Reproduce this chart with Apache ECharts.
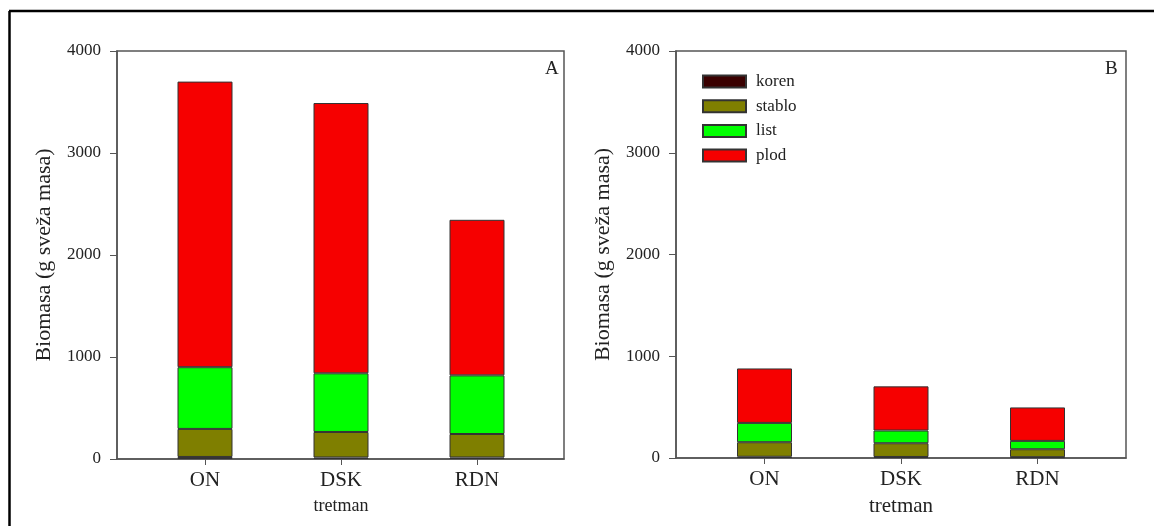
<!DOCTYPE html>
<html>
<head>
<meta charset="utf-8">
<script src="https://cdn.jsdelivr.net/npm/echarts@6/dist/echarts.min.js"></script>
<style>
html,body{margin:0;padding:0;background:#fff;}
#chart{width:1154px;height:526px;}
</style>
</head>
<body>
<div id="chart"></div>
<script>
var categories = ['ON', 'DSK', 'RDN'];
var seriesNames = ['koren', 'stablo', 'list', 'plod'];
var yTicks = [0, 1000, 2000, 3000, 4000];
// Panel A
var korenA = [20, 15, 15];
var stabloA = [275, 250, 230];
var listA = [605, 575, 575];
var plodA = [2800, 2650, 1525];
// Panel B
var korenB = [12, 10, 8];
var stabloB = [143, 135, 78];
var listB = [190, 125, 82];
var plodB = [535, 434, 329];

var colors = ['#3a0000', '#7f7f00', '#00ff00', '#f60000'];
var FONT = 'Liberation Serif';
var YMIN = yTicks[0], YMAX = yTicks[yTicks.length - 1];

// frame axes (y axis with labels + box), grids 0 and 1
function frameX(g) {
  return { type: 'value', gridIndex: g, min: 0, max: 1, show: true,
    axisLine: { show: true, onZero: false, lineStyle: { color: '#555', width: 1.5 } },
    axisTick: { show: false }, axisLabel: { show: false }, splitLine: { show: false } };
}
function frameY(g) {
  return {
    type: 'value', gridIndex: g, min: YMIN, max: YMAX, interval: 1000,
    name: 'Biomasa (g sveža masa)', nameLocation: 'middle', nameGap: 62, nameRotate: 90,
    nameTextStyle: { fontFamily: FONT, fontSize: 22, color: '#222' },
    axisLine: { show: true, onZero: false, lineStyle: { color: '#555', width: 1.5 } },
    axisTick: { show: true, length: 7, lineStyle: { color: '#555' } },
    axisLabel: { margin: 16, fontFamily: FONT, fontSize: 17, color: '#222',
      formatter: function (v) { return String(v); } },
    splitLine: { show: false }
  };
}
// category axes for bars, grids 2 and 3
function catX(g, nameSize) {
  return {
    type: 'category', gridIndex: g, data: categories,
    name: 'tretman', nameLocation: 'middle', nameGap: 38,
    nameTextStyle: { fontFamily: FONT, fontSize: nameSize, color: '#222' },
    axisLine: { show: false },
    axisTick: { show: true, alignWithLabel: true, length: 6, lineStyle: { color: '#555' } },
    axisLabel: { margin: 11, fontFamily: FONT, fontSize: 21, color: '#222' },
    splitLine: { show: false }
  };
}
function catY(g) {
  return { type: 'value', gridIndex: g, min: YMIN, max: YMAX, show: false, splitLine: { show: false } };
}
function makeSeries(name, data, idx, axisIdx, stack) {
  return {
    name: name, type: 'bar', stack: stack, xAxisIndex: axisIdx, yAxisIndex: axisIdx,
    barWidth: 55, data: data,
    itemStyle: { color: colors[idx], borderColor: '#333', borderWidth: 1 },
    emphasis: { disabled: true }
  };
}

var dataA = [korenA, stabloA, listA, plodA];
var dataB = [korenB, stabloB, listB, plodB];
var series = [];
seriesNames.forEach(function (n, i) { series.push(makeSeries(n, dataA[i], i, 2, 'A')); });
seriesNames.forEach(function (n, i) { series.push(makeSeries(n, dataB[i], i, 3, 'B')); });

var chart = echarts.init(document.getElementById('chart'), null, { renderer: 'canvas' });
chart.setOption({
  backgroundColor: '#fff',
  animation: false,
  grid: [
    { left: 117, top: 51, width: 447, height: 408, show: true, borderColor: '#555', borderWidth: 1.5, backgroundColor: 'transparent' },
    { left: 676, top: 51, width: 450, height: 407, show: true, borderColor: '#555', borderWidth: 1.5, backgroundColor: 'transparent' },
    { left: 137, top: 51, width: 408, height: 408 },
    { left: 696.25, top: 51, width: 409.5, height: 407 }
  ],
  xAxis: [frameX(0), frameX(1), catX(2, 18), catX(3, 21)],
  yAxis: [frameY(0), frameY(1), catY(2), catY(3)],
  legend: {
    data: seriesNames, orient: 'vertical', left: 702, top: 73, padding: 0,
    itemWidth: 43, itemHeight: 12, itemGap: 7.7, icon: 'rect',
    textStyle: { fontFamily: FONT, fontSize: 17, color: '#222', padding: [0, 0, 0, 5] }
  },
  graphic: [
    { type: 'text', left: 545, top: 60, style: { text: 'A', font: '19px "Liberation Serif"', fill: '#222' } },
    { type: 'text', left: 1105, top: 60, style: { text: 'B', font: '19px "Liberation Serif"', fill: '#222' } },
    { type: 'line', shape: { x1: 9, y1: 11, x2: 1154, y2: 11 }, style: { stroke: '#000', lineWidth: 2.5 } },
    { type: 'line', shape: { x1: 9.5, y1: 11, x2: 9.5, y2: 526 }, style: { stroke: '#000', lineWidth: 2.5 } }
  ],
  series: series
});
</script>
</body>
</html>
